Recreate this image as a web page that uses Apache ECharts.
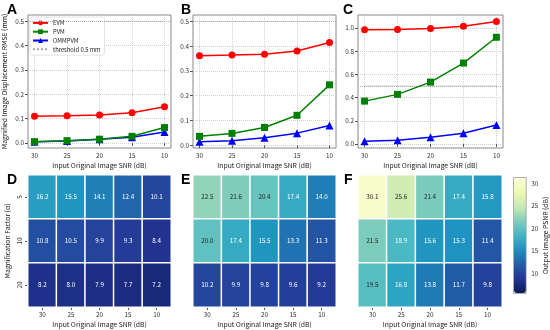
<!DOCTYPE html>
<html><head><meta charset="utf-8">
<script src="https://cdn.jsdelivr.net/npm/echarts@6/dist/echarts.min.js"></script>
<style>html,body{margin:0;padding:0;background:#fff}#c{width:550px;height:330px}</style>
</head><body><div id="c"></div>
<script>
// ---- data ----
const snr = [30, 25, 20, 15, 10];
const snrLabels = ['30', '25', '20', '15', '10'];
const alphas = ['5', '10', '20'];
const threshold = 0.5;
const methodNames = ['EVM', 'PVM', 'OMMPVM'];
// Panel A (alpha = 5)
const evmA = [0.110, 0.112, 0.115, 0.124, 0.149];
const pvmA = [0.005, 0.009, 0.015, 0.027, 0.063];
const ommA = [0.005, 0.008, 0.015, 0.023, 0.045];
// Panel B (alpha = 10)
const evmB = [0.361, 0.364, 0.368, 0.381, 0.415];
const pvmB = [0.036, 0.048, 0.072, 0.121, 0.244];
const ommB = [0.014, 0.018, 0.030, 0.049, 0.080];
// Panel C (alpha = 20)
const evmC = [0.985, 0.988, 0.996, 1.016, 1.055];
const pvmC = [0.370, 0.428, 0.534, 0.698, 0.920];
const ommC = [0.024, 0.032, 0.058, 0.093, 0.164];
const yTicksAB = [0, 0.1, 0.2, 0.3, 0.4, 0.5];
const yTicksC = [0, 0.2, 0.4, 0.6, 0.8, 1.0];
// Heatmaps: rows = alpha 5,10,20 ; cols = SNR 30..10
const psnrD = [[16.2, 15.5, 14.1, 12.4, 10.1], [10.8, 10.5, 9.9, 9.3, 8.4], [8.2, 8.0, 7.9, 7.7, 7.2]];
const psnrE = [[22.5, 21.6, 20.4, 17.4, 14.0], [20.0, 17.4, 15.5, 13.3, 11.3], [10.2, 9.9, 9.8, 9.6, 9.2]];
const psnrF = [[30.1, 25.6, 21.4, 17.4, 15.8], [21.5, 18.9, 15.6, 15.3, 11.4], [19.5, 16.8, 13.8, 11.7, 9.8]];
const colorTicks = [10, 15, 20, 25, 30];

// ---- styles ----
const F = '"Noto Sans CJK SC", sans-serif';
const TXT = '#222';
const ylgnbuRev = ['#081d58', '#253494', '#225ea8', '#1d91c0', '#41b6c4', '#7fcdbb', '#c7e9b4', '#edf8b1', '#ffffd9'];
const lineColors = ['#ff0000', '#008000', '#0000ff'];
const symbols = ['circle', 'rect', 'triangle'];

const lineGrids = [
  {left: 28, top: 15, width: 143, height: 133, ymin: -0.021, ymax: 0.526, ticks: yTicksAB, data: [evmA, pvmA, ommA], yname: 'Magnified Image Displacement RMSE (mm)'},
  {left: 193, top: 15, width: 143, height: 133, ymin: -0.011, ymax: 0.526, ticks: yTicksAB, data: [evmB, pvmB, ommB], yname: ''},
  {left: 358, top: 15, width: 145, height: 133, ymin: -0.034, ymax: 1.112, ticks: yTicksC, data: [evmC, pvmC, ommC], yname: ''}
];
const heatGrids = [
  {left: 28, top: 175, width: 143, height: 132, data: psnrD, yname: 'Magnification Factor (α)', showY: true},
  {left: 193, top: 175, width: 143, height: 132, data: psnrE, yname: '', showY: false},
  {left: 358, top: 175, width: 144, height: 132, data: psnrF, yname: '', showY: false}
];

const grid = [], xAxis = [], yAxis = [], series = [];
const xName = 'Input Original Image SNR (dB)';
const nameStyle = {fontSize: 6.8, color: TXT, fontFamily: F};
const labStyle = {fontSize: 6.3, color: '#333', fontFamily: F};

lineGrids.forEach((g, i) => {
  grid.push({left: g.left, top: g.top, width: g.width, height: g.height, show: true, borderColor: '#888', borderWidth: 1, backgroundColor: 'transparent'});
  xAxis.push({
    type: 'value', gridIndex: i, inverse: true, min: 9, max: 31,
    axisLine: {show: false},
    axisTick: {show: true, customValues: snr, length: 3, lineStyle: {color: '#555'}},
    axisLabel: Object.assign({customValues: snr, margin: 4}, labStyle),
    splitLine: {show: true, lineStyle: {color: '#cfcfcf', type: 'dotted', width: 1}},
    name: xName, nameLocation: 'middle', nameGap: 14, nameTextStyle: nameStyle
  });
  yAxis.push({
    type: 'value', gridIndex: i, min: g.ymin, max: g.ymax,
    axisLine: {show: false},
    axisTick: {show: true, customValues: g.ticks, length: 3, lineStyle: {color: '#555'}},
    axisLabel: Object.assign({customValues: g.ticks, margin: 4, formatter: v => v.toFixed(1)}, labStyle),
    splitLine: {show: true, lineStyle: {color: '#cfcfcf', type: 'dotted', width: 1}},
    name: g.yname, nameLocation: 'middle', nameGap: 20, nameTextStyle: nameStyle
  });
  g.data.forEach((vals, k) => {
    series.push({
      type: 'line', name: methodNames[k], xAxisIndex: i, yAxisIndex: i,
      data: snr.map((x, j) => [x, vals[j]]),
      symbol: symbols[k], symbolSize: k === 2 ? 8 : 7,
      lineStyle: {color: lineColors[k], width: 1.5},
      itemStyle: {color: lineColors[k]},
      z: 5 + (2 - k), animation: false
    });
  });
  series.push({
    type: 'line', name: 'threshold 0.5 mm', xAxisIndex: i, yAxisIndex: i,
    data: snr.map(x => [x, threshold]), symbol: 'none',
    lineStyle: {color: '#aaa', width: 1, type: 'dotted'}, itemStyle: {color: '#aaa'},
    markLine: {silent: true, symbol: 'none', label: {show: false}, data: [{yAxis: threshold}],
      lineStyle: {color: '#aaa', width: 1, type: 'dotted'}},
    z: 2, animation: false
  });
});

const heatSeriesIdx = [];
heatGrids.forEach((g, h) => {
  const gi = 3 + h;
  grid.push({left: g.left, top: g.top, width: g.width, height: g.height});
  xAxis.push({
    type: 'category', gridIndex: gi, data: snrLabels,
    axisLine: {show: false},
    axisTick: {show: true, alignWithLabel: true, length: 3, lineStyle: {color: '#555'}},
    axisLabel: Object.assign({margin: 4}, labStyle),
    splitLine: {show: false},
    name: xName, nameLocation: 'middle', nameGap: 14, nameTextStyle: nameStyle
  });
  yAxis.push({
    type: 'category', gridIndex: gi, data: alphas, inverse: true,
    axisLine: {show: false},
    axisTick: {show: g.showY, alignWithLabel: true, length: 3, lineStyle: {color: '#555'}},
    axisLabel: Object.assign({show: g.showY, rotate: 90, margin: 5}, labStyle),
    splitLine: {show: false},
    name: g.yname, nameLocation: 'middle', nameGap: 17, nameTextStyle: nameStyle
  });
  const d = [];
  g.data.forEach((row, r) => row.forEach((v, c) => {
    d.push({value: [c, r, v], label: {color: v >= 19 ? '#262626' : '#ffffff'}});
  }));
  heatSeriesIdx.push(series.length);
  series.push({
    type: 'heatmap', xAxisIndex: gi, yAxisIndex: gi, data: d,
    itemStyle: {borderColor: '#fff', borderWidth: 1.5},
    label: {show: true, fontSize: 6.3, fontFamily: F, formatter: p => p.value[2].toFixed(1)},
    emphasis: {disabled: true}, animation: false
  });
});

// colorbar axis
grid.push({left: 513.5, top: 177.5, width: 13, height: 116, show: true, borderColor: '#999', borderWidth: 0.8, backgroundColor: 'transparent', z: 10});
xAxis.push({type: 'value', gridIndex: 6, show: false, min: 0, max: 1});
yAxis.push({
  type: 'value', gridIndex: 6, position: 'right', min: 5.5, max: 31.35,
  axisLine: {show: false},
  axisTick: {show: true, customValues: colorTicks, length: 3, lineStyle: {color: '#555'}},
  axisLabel: Object.assign({customValues: colorTicks, margin: 5}, labStyle),
  splitLine: {show: false},
  name: 'Output Image PSNR (dB)', nameLocation: 'middle', nameGap: 16, nameRotate: 90, nameTextStyle: nameStyle
});

const letters = [['A', 7, 3], ['B', 181, 3], ['C', 343, 3], ['D', 7, 173], ['E', 181, 173], ['F', 344, 173]];

const chart = echarts.init(document.getElementById('c'), null, {renderer: 'canvas'});
chart.setOption({
  animation: false,
  backgroundColor: '#fff',
  textStyle: {fontFamily: F},
  grid, xAxis, yAxis, series,
  legend: {
    data: ['EVM', 'PVM', 'OMMPVM', {name: 'threshold 0.5 mm', itemStyle: {opacity: 0}}],
    orient: 'vertical', left: 30, top: 17,
    itemWidth: 15, itemHeight: 6, itemGap: 3,
    textStyle: {fontSize: 5.8, color: TXT, fontFamily: F},
    backgroundColor: '#fff', borderColor: '#ddd', borderWidth: 0.8, borderRadius: 2,
    padding: [3, 4, 3, 2], selectedMode: false
  },
  visualMap: {
    type: 'continuous', min: 5.5, max: 31.35, seriesIndex: heatSeriesIdx,
    inRange: {color: ylgnbuRev}, left: 514, top: 178, itemWidth: 12, itemHeight: 115,
    padding: 0, calculable: false, text: null, hoverLink: false
  },
  graphic: letters.map(([t, x, y]) => ({
    type: 'text', left: x, top: y,
    style: {text: t, font: 'bold 14px "Liberation Sans", Arial, sans-serif', fill: '#000'}
  }))
});
</script></body></html>
